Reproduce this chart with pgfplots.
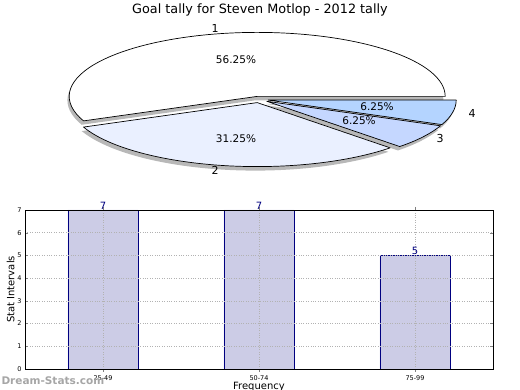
\documentclass[border=0pt]{standalone}
\usepackage{pgfplots}
\pgfplotsset{compat=1.18}
\usepackage{fontspec}
\setmainfont{DejaVu Sans}
\definecolor{barfill}{RGB}{204,204,230}
\definecolor{baredge}{RGB}{0,0,128}
\definecolor{sliceA}{RGB}{255,255,255}
\definecolor{sliceB}{RGB}{234,240,255}
\definecolor{sliceC}{RGB}{197,215,255}
\definecolor{sliceD}{RGB}{180,212,255}
\begin{document}
\begin{tikzpicture}[x=1pt,y=1pt]
% ---------- pie (goals per interval: 9, 5, 1, 1 of 16) ----------
\begin{axis}[at={(0pt,0pt)},anchor=origin,x=1pt,y=1pt,xmin=0,xmax=520,ymin=0,ymax=390,
  hide axis,scale only axis,clip=false]
\addplot[draw=none] coordinates {(0,0) (520,390)};
% shadows
\fill[gray!70,opacity=0.8] (axis cs:255.4,289.7) -- ++(0:188pt and 64pt) arc[start angle=0,end angle=202.5,x radius=188pt,y radius=64pt] -- cycle;
\fill[gray!70,opacity=0.8] (axis cs:255.4,283.4) -- ++(202.5:188pt and 64pt) arc[start angle=202.5,end angle=315,x radius=188pt,y radius=64pt] -- cycle;
\fill[gray!70,opacity=0.8] (axis cs:265.0,284.8) -- ++(315:188pt and 64pt) arc[start angle=315,end angle=337.5,x radius=188pt,y radius=64pt] -- cycle;
\fill[gray!70,opacity=0.8] (axis cs:266.4,286.0) -- ++(337.5:188pt and 64pt) arc[start angle=337.5,end angle=360,x radius=188pt,y radius=64pt] -- cycle;
% wedges
\filldraw[fill=sliceA,draw=black,line width=0.7pt,line join=round] (axis cs:257.2,293.6) -- ++(0:188pt and 64pt) arc[start angle=0,end angle=202.5,x radius=188pt,y radius=64pt] -- cycle;
\filldraw[fill=sliceB,draw=black,line width=0.7pt,line join=round] (axis cs:257.2,287.4) -- ++(202.5:188pt and 64pt) arc[start angle=202.5,end angle=315,x radius=188pt,y radius=64pt] -- cycle;
\filldraw[fill=sliceC,draw=black,line width=0.7pt,line join=round] (axis cs:266.8,288.7) -- ++(315:188pt and 64pt) arc[start angle=315,end angle=337.5,x radius=188pt,y radius=64pt] -- cycle;
\filldraw[fill=sliceD,draw=black,line width=0.7pt,line join=round] (axis cs:268.2,289.9) -- ++(337.5:188pt and 64pt) arc[start angle=337.5,end angle=360,x radius=188pt,y radius=64pt] -- cycle;
% labels
\node[font=\fontsize{11}{12}\selectfont] at (axis cs:215,362) {1};
\node[font=\fontsize{11}{12}\selectfont] at (axis cs:215,220) {2};
\node[font=\fontsize{11}{12}\selectfont] at (axis cs:440,251) {3};
\node[font=\fontsize{11}{12}\selectfont] at (axis cs:472,277) {4};
\node[font=\fontsize{10.5}{12}\selectfont] at (axis cs:236,330) {56.25\%};
\node[font=\fontsize{10.5}{12}\selectfont] at (axis cs:236,251) {31.25\%};
\node[font=\fontsize{10.5}{12}\selectfont] at (axis cs:377,283) {6.25\%};
\node[font=\fontsize{10.5}{12}\selectfont] at (axis cs:359,269) {6.25\%};
\node[font=\fontsize{12.8}{14}\selectfont] at (axis cs:260,380) {Goal tally for Steven Motlop - 2012 tally};
\end{axis}
% ---------- bars ----------
\begin{axis}[at={(103pt,21pt)},anchor=origin,scale only axis,width=468pt,height=159pt,
  xmin=-0.5,xmax=2.5,ymin=0,ymax=7,
  xtick={0,1,2},xticklabels={25-49,50-74,75-99},
  ytick={0,1,2,3,4,5,6,7},
  ticklabel style={font=\fontsize{6.5}{7}\selectfont},
  /pgf/number format/assume math mode=true,
  tick align=inside,major tick length=3pt,
  axis on top,
  xmajorgrids,ymajorgrids,
  grid style={gray!60,dotted,line width=0.6pt},
  axis line style={line width=0.8pt},
  ylabel={Stat Intervals},xlabel={Frequency},
  label style={font=\fontsize{10}{12}\selectfont},
  ylabel style={yshift=-4pt},xlabel style={yshift=5pt},
  ybar,bar width=0.45,
  nodes near coords,
  every node near coord/.append style={font=\fontsize{10}{12}\selectfont,text=baredge,yshift=-3pt},
]
\addplot[fill=barfill,draw=baredge,line width=0.7pt] coordinates {(0,7) (1,7) (2,5)};
\end{axis}
\node[anchor=west,text=gray!70,font=\fontsize{10.5}{12}\selectfont\bfseries] at (-2pt,9pt) {Dream-Stats.com};
\pgfresetboundingbox
\path[use as bounding box] (0pt,0pt) rectangle (520pt,390pt);
\end{tikzpicture}
\end{document}
